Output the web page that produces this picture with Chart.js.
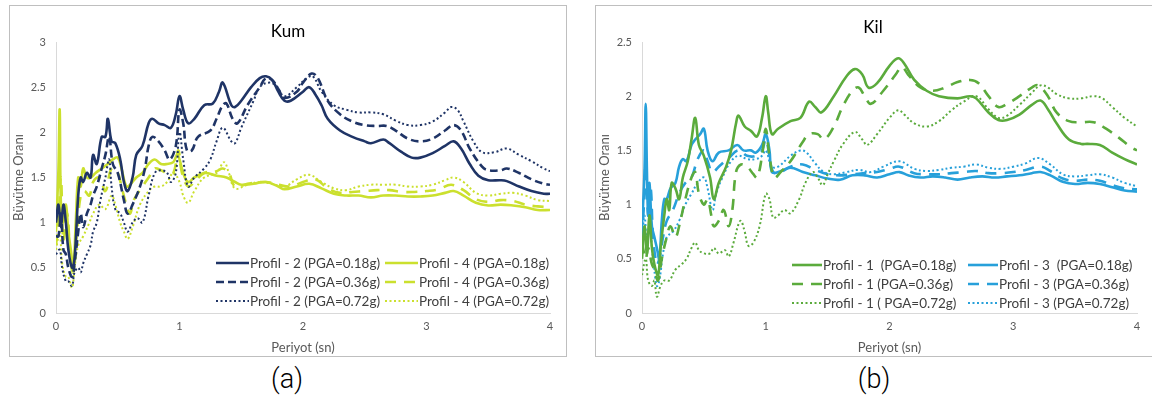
<!DOCTYPE html>
<html>
<head>
<meta charset="utf-8">
<script src="https://cdn.jsdelivr.net/npm/chart.js@4.4.0/dist/chart.umd.min.js"></script>
<style>
  body { margin: 0; background: #fff; width: 1152px; height: 398px; position: relative; overflow: hidden; font-family: Lato, sans-serif; }
  .panel { position: absolute; top: 5px; height: 350px; border: 1px solid #bfbfbf; background: #fff; }
  .panel canvas { display: block; }
  .ttl { position: absolute; font-size: 17px; color: #000; transform: translate(-50%, -50%); white-space: nowrap; }
  .cap { position: absolute; font-family: Roboto, sans-serif; font-weight: 300; font-size: 27px; color: #000; transform: translate(-50%, -50%); }
</style>
</head>
<body>
<div class="panel" style="left:9px; width:556px;"><canvas id="kum" width="556" height="350"></canvas></div>
<div class="panel" style="left:595px; width:557px;"><canvas id="kil" width="557" height="350"></canvas></div>
<div class="ttl" style="left:288px; top:30px;">Kum</div>
<div class="ttl" style="left:873px; top:26px;">Kil</div>
<div class="cap" style="left:287px; top:379px;">(a)</div>
<div class="cap" style="left:874px; top:379px;">(b)</div>
<script>
// Periyot (sn) vs Büyütme Oranı, [period, value] pairs
const kumP2_018 = [[0,1.0],[0.02,1.2],[0.04,0.95],[0.06,1.2],[0.08,1.0],[0.1,0.7],[0.13,0.5],[0.15,0.6],[0.18,1.3],[0.2,1.5],[0.22,1.45],[0.25,1.55],[0.28,1.5],[0.3,1.75],[0.33,1.65],[0.37,1.95],[0.4,1.95],[0.42,2.15],[0.45,1.9],[0.48,1.88],[0.52,1.7],[0.55,1.45],[0.58,1.35],[0.62,1.5],[0.65,1.75],[0.7,1.85],[0.75,2.1],[0.78,2.15],[0.83,2.1],[0.88,2.08],[0.93,2.05],[0.97,2.2],[1.0,2.4],[1.03,2.25],[1.07,2.1],[1.12,2.15],[1.2,2.3],[1.27,2.32],[1.32,2.45],[1.35,2.55],[1.42,2.3],[1.45,2.28],[1.5,2.35],[1.58,2.5],[1.65,2.6],[1.7,2.62],[1.75,2.58],[1.8,2.45],[1.85,2.35],[1.9,2.35],[2.0,2.45],[2.05,2.5],[2.1,2.42],[2.15,2.3],[2.2,2.15],[2.3,2.02],[2.4,1.95],[2.5,1.9],[2.55,1.88],[2.65,1.92],[2.7,1.88],[2.8,1.78],[2.88,1.72],[2.95,1.72],[3.05,1.77],[3.15,1.85],[3.22,1.9],[3.28,1.82],[3.35,1.65],[3.42,1.52],[3.5,1.47],[3.6,1.47],[3.65,1.46],[3.75,1.4],[3.85,1.35],[3.95,1.32],[4.0,1.32]];
const kumP2_036 = [[0,0.85],[0.02,0.85],[0.04,1.1],[0.06,0.7],[0.08,0.65],[0.1,0.5],[0.13,0.4],[0.15,0.55],[0.18,0.9],[0.2,1.1],[0.22,0.95],[0.25,1.1],[0.28,1.2],[0.3,1.3],[0.33,1.4],[0.37,1.6],[0.4,1.75],[0.43,1.95],[0.46,1.65],[0.5,1.55],[0.55,1.25],[0.58,1.1],[0.62,1.2],[0.68,1.4],[0.72,1.6],[0.75,1.85],[0.78,1.95],[0.83,1.9],[0.88,1.8],[0.92,1.7],[0.97,1.85],[1.0,2.25],[1.03,2.1],[1.06,1.8],[1.1,1.8],[1.15,1.95],[1.25,2.02],[1.3,2.15],[1.35,2.3],[1.38,2.32],[1.43,2.15],[1.47,2.1],[1.55,2.3],[1.65,2.5],[1.7,2.6],[1.75,2.58],[1.8,2.48],[1.85,2.38],[1.95,2.45],[2.0,2.55],[2.07,2.65],[2.12,2.6],[2.2,2.35],[2.3,2.2],[2.4,2.12],[2.5,2.08],[2.6,2.07],[2.68,2.07],[2.75,2.02],[2.85,1.93],[2.95,1.9],[3.05,1.93],[3.15,2.02],[3.22,2.08],[3.28,2.02],[3.35,1.82],[3.45,1.62],[3.5,1.58],[3.6,1.58],[3.65,1.6],[3.75,1.55],[3.85,1.48],[3.95,1.43],[4.0,1.42]];
const kumP2_072 = [[0,0.65],[0.03,0.7],[0.05,0.5],[0.08,0.35],[0.1,0.35],[0.13,0.3],[0.15,0.45],[0.18,0.5],[0.2,0.45],[0.22,0.55],[0.25,0.65],[0.28,0.75],[0.3,0.9],[0.33,1.0],[0.36,1.25],[0.4,1.5],[0.43,1.7],[0.45,1.4],[0.48,1.15],[0.52,1.1],[0.55,1.0],[0.58,0.9],[0.62,1.0],[0.66,1.05],[0.7,1.0],[0.75,1.3],[0.8,1.55],[0.85,1.58],[0.9,1.55],[0.93,1.45],[0.97,1.55],[1.0,2.0],[1.03,1.7],[1.07,1.4],[1.12,1.5],[1.2,1.6],[1.25,1.7],[1.3,1.9],[1.35,2.05],[1.42,1.9],[1.45,1.88],[1.5,2.05],[1.6,2.35],[1.65,2.5],[1.72,2.55],[1.78,2.52],[1.85,2.4],[1.95,2.5],[2.03,2.6],[2.08,2.62],[2.15,2.45],[2.25,2.3],[2.35,2.25],[2.45,2.22],[2.55,2.22],[2.65,2.2],[2.75,2.13],[2.85,2.08],[2.95,2.08],[3.05,2.12],[3.15,2.22],[3.2,2.28],[3.25,2.25],[3.3,2.12],[3.38,1.9],[3.45,1.78],[3.55,1.78],[3.65,1.82],[3.75,1.75],[3.85,1.68],[3.95,1.6],[4.0,1.57]];
const kumP4_018 = [[0,0.9],[0.02,1.6],[0.03,2.25],[0.04,1.2],[0.06,1.0],[0.08,1.2],[0.1,0.9],[0.12,0.7],[0.14,0.5],[0.16,1.0],[0.18,1.5],[0.2,1.4],[0.22,1.6],[0.25,1.5],[0.28,1.5],[0.32,1.55],[0.37,1.6],[0.42,1.65],[0.46,1.7],[0.5,1.72],[0.53,1.6],[0.57,1.4],[0.6,1.42],[0.65,1.5],[0.7,1.55],[0.75,1.65],[0.8,1.7],[0.85,1.65],[0.9,1.65],[0.95,1.67],[0.98,1.75],[1.0,1.7],[1.03,1.55],[1.07,1.45],[1.12,1.5],[1.2,1.55],[1.3,1.52],[1.38,1.5],[1.45,1.45],[1.5,1.42],[1.6,1.43],[1.7,1.45],[1.8,1.4],[1.85,1.37],[1.95,1.4],[2.05,1.43],[2.15,1.38],[2.25,1.32],[2.35,1.3],[2.45,1.3],[2.55,1.28],[2.65,1.3],[2.75,1.3],[2.85,1.29],[2.95,1.29],[3.05,1.3],[3.15,1.33],[3.22,1.35],[3.3,1.3],[3.4,1.22],[3.5,1.19],[3.6,1.2],[3.7,1.19],[3.8,1.17],[3.9,1.14],[4.0,1.14]];
const kumP4_036 = [[0,0.75],[0.02,1.0],[0.04,1.5],[0.06,0.8],[0.09,1.1],[0.12,0.55],[0.14,0.45],[0.17,0.9],[0.2,1.3],[0.23,1.35],[0.27,1.3],[0.3,1.45],[0.35,1.5],[0.4,1.35],[0.45,1.6],[0.5,1.55],[0.53,1.4],[0.57,1.2],[0.6,1.1],[0.63,1.25],[0.7,1.4],[0.75,1.5],[0.8,1.6],[0.85,1.58],[0.9,1.55],[0.95,1.55],[0.99,1.8],[1.02,1.55],[1.07,1.4],[1.12,1.45],[1.2,1.55],[1.3,1.57],[1.35,1.6],[1.4,1.55],[1.45,1.4],[1.55,1.43],[1.7,1.45],[1.8,1.42],[1.9,1.4],[2.0,1.45],[2.1,1.48],[2.2,1.38],[2.3,1.33],[2.4,1.34],[2.5,1.35],[2.6,1.36],[2.7,1.36],[2.8,1.34],[2.9,1.34],[3.0,1.35],[3.1,1.37],[3.2,1.42],[3.3,1.36],[3.4,1.26],[3.5,1.23],[3.6,1.25],[3.7,1.24],[3.8,1.2],[3.9,1.18],[4.0,1.17]];
const kumP4_072 = [[0,0.7],[0.03,0.9],[0.05,0.55],[0.08,0.4],[0.1,0.4],[0.13,0.28],[0.15,0.5],[0.18,0.75],[0.22,0.85],[0.27,1.0],[0.3,1.1],[0.35,1.2],[0.4,1.15],[0.45,1.3],[0.48,1.2],[0.52,1.0],[0.55,0.9],[0.58,0.82],[0.62,0.95],[0.68,1.2],[0.75,1.35],[0.8,1.4],[0.85,1.4],[0.9,1.45],[0.95,1.55],[1.0,1.45],[1.03,1.3],[1.07,1.22],[1.12,1.35],[1.2,1.5],[1.3,1.55],[1.36,1.67],[1.4,1.55],[1.45,1.38],[1.55,1.42],[1.65,1.45],[1.75,1.43],[1.85,1.4],[1.95,1.48],[2.05,1.53],[2.15,1.45],[2.25,1.38],[2.35,1.36],[2.45,1.4],[2.55,1.42],[2.65,1.42],[2.75,1.42],[2.85,1.4],[2.95,1.4],[3.05,1.42],[3.15,1.47],[3.22,1.5],[3.3,1.45],[3.4,1.33],[3.5,1.3],[3.6,1.32],[3.7,1.33],[3.8,1.3],[3.9,1.25],[4.0,1.24]];

const kilP1_018 = [[0,0.5],[0.02,0.8],[0.04,0.55],[0.06,0.9],[0.08,0.6],[0.1,0.45],[0.13,0.35],[0.15,0.6],[0.18,0.9],[0.2,1.05],[0.22,0.95],[0.24,1.2],[0.27,1.15],[0.3,1.05],[0.33,1.25],[0.37,1.4],[0.4,1.6],[0.43,1.8],[0.46,1.55],[0.5,1.45],[0.55,1.25],[0.58,1.05],[0.62,1.2],[0.68,1.35],[0.72,1.5],[0.76,1.75],[0.78,1.82],[0.83,1.72],[0.88,1.68],[0.93,1.63],[0.97,1.8],[1.0,2.0],[1.02,1.85],[1.05,1.65],[1.1,1.7],[1.2,1.77],[1.28,1.8],[1.35,1.95],[1.4,1.9],[1.45,1.85],[1.55,2.0],[1.65,2.18],[1.72,2.25],[1.78,2.2],[1.83,2.08],[1.9,2.12],[2.0,2.28],[2.07,2.35],[2.12,2.3],[2.2,2.15],[2.3,2.05],[2.4,2.0],[2.55,1.98],[2.65,2.0],[2.7,1.98],[2.8,1.85],[2.88,1.78],[2.95,1.78],[3.05,1.83],[3.15,1.92],[3.22,1.96],[3.28,1.88],[3.35,1.75],[3.45,1.6],[3.55,1.56],[3.6,1.56],[3.7,1.55],[3.8,1.48],[3.9,1.42],[4.0,1.37]];
const kilP1_036 = [[0,0.65],[0.03,0.5],[0.05,0.6],[0.08,0.45],[0.1,0.4],[0.13,0.3],[0.16,0.5],[0.2,0.7],[0.23,0.8],[0.27,0.7],[0.3,0.8],[0.35,1.05],[0.4,1.25],[0.43,1.3],[0.46,1.1],[0.5,1.0],[0.53,1.05],[0.56,0.9],[0.58,0.8],[0.62,0.85],[0.66,0.95],[0.7,0.8],[0.73,0.95],[0.76,1.3],[0.8,1.37],[0.85,1.35],[0.9,1.28],[0.93,1.25],[0.97,1.45],[1.0,1.7],[1.03,1.45],[1.07,1.25],[1.12,1.3],[1.2,1.4],[1.3,1.58],[1.35,1.65],[1.42,1.65],[1.47,1.6],[1.55,1.72],[1.62,1.9],[1.7,2.05],[1.75,2.08],[1.8,2.0],[1.85,1.93],[1.95,2.05],[2.05,2.2],[2.1,2.27],[2.15,2.2],[2.25,2.08],[2.35,2.05],[2.45,2.08],[2.55,2.13],[2.65,2.15],[2.72,2.12],[2.8,2.0],[2.88,1.9],[2.95,1.93],[3.05,2.0],[3.15,2.08],[3.2,2.1],[3.28,2.0],[3.35,1.85],[3.45,1.77],[3.55,1.76],[3.65,1.76],[3.75,1.7],[3.85,1.62],[3.95,1.53],[4.0,1.5]];
const kilP1_072 = [[0,0.35],[0.03,0.5],[0.05,0.3],[0.08,0.25],[0.1,0.3],[0.12,0.15],[0.15,0.25],[0.18,0.3],[0.22,0.3],[0.27,0.4],[0.32,0.45],[0.36,0.5],[0.4,0.6],[0.43,0.65],[0.46,0.58],[0.5,0.55],[0.55,0.55],[0.58,0.6],[0.62,0.55],[0.67,0.58],[0.7,0.52],[0.74,0.65],[0.78,0.82],[0.8,0.85],[0.83,0.75],[0.86,0.62],[0.9,0.65],[0.95,0.8],[1.0,1.1],[1.03,1.05],[1.06,0.88],[1.1,0.9],[1.15,0.95],[1.2,0.92],[1.27,1.05],[1.32,1.2],[1.38,1.3],[1.42,1.25],[1.46,1.18],[1.5,1.28],[1.55,1.4],[1.62,1.55],[1.72,1.67],[1.78,1.6],[1.82,1.55],[1.9,1.65],[2.0,1.8],[2.07,1.87],[2.12,1.83],[2.2,1.75],[2.3,1.72],[2.4,1.77],[2.5,1.87],[2.6,1.95],[2.7,2.0],[2.8,1.88],[2.88,1.8],[2.95,1.82],[3.05,1.92],[3.15,2.03],[3.22,2.1],[3.28,2.08],[3.35,2.02],[3.45,1.98],[3.55,1.98],[3.65,2.0],[3.72,1.98],[3.8,1.9],[3.9,1.8],[4.0,1.72]];
const kilP3_018 = [[0,0.8],[0.02,1.3],[0.03,1.93],[0.04,1.3],[0.05,0.9],[0.06,1.2],[0.08,0.8],[0.1,0.7],[0.12,0.6],[0.14,0.5],[0.16,0.85],[0.18,1.05],[0.2,1.05],[0.23,1.15],[0.27,1.2],[0.3,1.35],[0.33,1.42],[0.36,1.4],[0.4,1.55],[0.43,1.6],[0.47,1.65],[0.5,1.7],[0.53,1.5],[0.57,1.4],[0.62,1.48],[0.7,1.5],[0.77,1.55],[0.82,1.5],[0.88,1.5],[0.92,1.48],[0.97,1.55],[1.0,1.65],[1.03,1.5],[1.05,1.3],[1.1,1.3],[1.2,1.34],[1.3,1.3],[1.4,1.27],[1.5,1.24],[1.6,1.23],[1.7,1.27],[1.8,1.27],[1.9,1.25],[2.0,1.28],[2.08,1.3],[2.15,1.27],[2.25,1.25],[2.35,1.26],[2.45,1.25],[2.55,1.23],[2.65,1.25],[2.75,1.26],[2.85,1.25],[2.95,1.26],[3.05,1.27],[3.15,1.29],[3.22,1.3],[3.3,1.27],[3.4,1.21],[3.5,1.19],[3.6,1.2],[3.7,1.19],[3.8,1.16],[3.9,1.13],[4.0,1.12]];
const kilP3_036 = [[0,0.7],[0.02,1.1],[0.03,1.45],[0.05,0.9],[0.07,1.15],[0.09,0.7],[0.12,0.45],[0.14,0.5],[0.17,0.7],[0.2,0.85],[0.25,0.95],[0.3,1.1],[0.35,1.2],[0.4,1.25],[0.45,1.42],[0.5,1.5],[0.53,1.4],[0.57,1.3],[0.62,1.35],[0.7,1.43],[0.78,1.5],[0.85,1.45],[0.92,1.45],[0.97,1.5],[1.0,1.6],[1.03,1.45],[1.06,1.3],[1.12,1.3],[1.2,1.35],[1.3,1.37],[1.4,1.32],[1.5,1.28],[1.6,1.27],[1.7,1.28],[1.8,1.29],[1.9,1.3],[2.0,1.33],[2.08,1.35],[2.2,1.29],[2.3,1.28],[2.4,1.28],[2.5,1.29],[2.6,1.3],[2.7,1.31],[2.8,1.29],[2.9,1.29],[3.0,1.3],[3.1,1.32],[3.22,1.35],[3.3,1.31],[3.4,1.24],[3.5,1.22],[3.6,1.23],[3.7,1.22],[3.8,1.18],[3.9,1.15],[4.0,1.14]];
const kilP3_072 = [[0,0.65],[0.02,0.9],[0.04,0.65],[0.06,0.8],[0.09,0.5],[0.12,0.25],[0.14,0.3],[0.17,0.55],[0.2,0.7],[0.25,0.75],[0.3,0.85],[0.35,1.0],[0.4,1.1],[0.45,1.2],[0.5,1.25],[0.53,1.15],[0.57,0.95],[0.6,1.1],[0.65,1.25],[0.72,1.4],[0.78,1.45],[0.85,1.42],[0.92,1.42],[0.97,1.45],[1.0,1.5],[1.05,1.35],[1.1,1.35],[1.2,1.45],[1.28,1.5],[1.33,1.48],[1.4,1.38],[1.47,1.3],[1.55,1.28],[1.65,1.3],[1.75,1.32],[1.85,1.3],[1.95,1.35],[2.08,1.4],[2.2,1.33],[2.3,1.31],[2.4,1.32],[2.5,1.34],[2.6,1.35],[2.7,1.37],[2.8,1.34],[2.9,1.33],[3.0,1.35],[3.1,1.38],[3.2,1.43],[3.3,1.37],[3.4,1.28],[3.5,1.26],[3.6,1.27],[3.7,1.28],[3.8,1.25],[3.9,1.2],[4.0,1.17]];

const kumLabels = ["Profil - 2 (PGA=0.18g)", "Profil - 2 (PGA=0.36g)", "Profil - 2 (PGA=0.72g)",
                   "Profil - 4 (PGA=0.18g)", "Profil - 4 (PGA=0.36g)", "Profil - 4 (PGA=0.72g)"];
const kilLabels = ["Profil - 1  (PGA=0.18g)", "Profil - 1 (PGA=0.36g)", "Profil - 1 ( PGA=0.72g)",
                   "Profil - 3  (PGA=0.18g)", "Profil - 3 (PGA=0.36g)", "Profil - 3 (PGA=0.72g)"];
const periodTicks = [0, 1, 2, 3, 4];
const kumMax = 3;
const kilMax = 2.5;

const NAVY = "#1f3466", LIME = "#cbe02e", GREEN = "#5bab3c", BLUE = "#27a0da";
const TXT = "#595959";

function pts(a) { return a.map(p => ({ x: p[0], y: p[1] })); }

function ds(label, data, color, kind, longDash) {
  let dash = [];
  let w = 2.6;
  if (kind === "dash") dash = longDash ? [11, 8] : [8, 4];
  if (kind === "dot") { dash = [2, 2.5]; w = 2; }
  return {
    label: label, data: pts(data), borderColor: color, borderWidth: w, borderDash: dash,
    pointRadius: 0, fill: false, tension: 0.4
  };
}

// legend drawn inside the plot area, 2 columns x 3 rows
function insideLegend(cols, lineLen, rows) {
  return {
    id: "insideLegend",
    afterDatasetsDraw(chart) {
      const ctx = chart.ctx, a = chart.chartArea;
      ctx.save();
      ctx.font = "13.5px Lato";
      ctx.fillStyle = "#404040";
      ctx.textBaseline = "middle";
      chart.data.datasets.forEach((d, i) => {
        const x = a.right - cols[Math.floor(i / 3)];
        const y = a.bottom - rows[i % 3];
        ctx.strokeStyle = d.borderColor;
        ctx.lineWidth = d.borderWidth;
        ctx.setLineDash(d.borderDash);
        ctx.beginPath();
        ctx.moveTo(x, y);
        ctx.lineTo(x + lineLen, y);
        ctx.stroke();
        ctx.setLineDash([]);
        ctx.fillText(d.label, x + lineLen + 1, y + 1);
      });
      ctx.restore();
    }
  };
}

function makeChart(id, datasets, yMax, legend) {
  new Chart(document.getElementById(id), {
    type: "line",
    data: { datasets: datasets },
    options: {
      responsive: false,
      animation: false,
      layout: { padding: { top: 36, right: 16, bottom: 0, left: 0 } },
      plugins: { legend: { display: false }, title: { display: false }, tooltip: { enabled: false } },
      scales: {
        x: {
          type: "linear", min: 0, max: 4,
          afterBuildTicks: s => { s.ticks = periodTicks.map(v => ({ value: v })); },
          afterFit: s => { s.height = 43; },
          grid: { display: false, drawTicks: false },
          border: { display: true, color: "#d9d9d9", width: 1 },
          ticks: { padding: 7, color: TXT, font: { family: "Lato", size: 11 }, maxRotation: 0, callback: v => String(v) },
          title: { display: true, text: "Periyot (sn)", color: TXT, font: { family: "Lato", size: 13 }, padding: { top: 0, bottom: 0 } }
        },
        y: {
          min: 0, max: yMax,
          afterFit: s => { s.width = 46; },
          grid: { display: false, drawTicks: false },
          border: { display: true, color: "#d9d9d9", width: 1 },
          ticks: { stepSize: 0.5, padding: 10, color: TXT, font: { family: "Lato", size: 11 }, callback: v => String(v) },
          title: { display: true, text: "Büyütme Oranı", color: TXT, font: { family: "Lato", size: 13 }, padding: { top: 1, bottom: 0 } }
        }
      }
    },
    plugins: [legend]
  });
}

makeChart("kum", [
  ds(kumLabels[0], kumP2_018, NAVY, "solid"),
  ds(kumLabels[1], kumP2_036, NAVY, "dash", false),
  ds(kumLabels[2], kumP2_072, NAVY, "dot"),
  ds(kumLabels[3], kumP4_018, LIME, "solid"),
  ds(kumLabels[4], kumP4_036, LIME, "dash", true),
  ds(kumLabels[5], kumP4_072, LIME, "dot")
], kumMax, insideLegend([334, 165], 33, [50, 31, 12]));

makeChart("kil", [
  ds(kilLabels[0], kilP1_018, GREEN, "solid"),
  ds(kilLabels[1], kilP1_036, GREEN, "dash", true),
  ds(kilLabels[2], kilP1_072, GREEN, "dot"),
  ds(kilLabels[3], kilP3_018, BLUE, "solid"),
  ds(kilLabels[4], kilP3_036, BLUE, "dash", true),
  ds(kilLabels[5], kilP3_072, BLUE, "dot")
], kilMax, insideLegend([345, 169], 30, [48, 29, 10]));
</script>
</body>
</html>
